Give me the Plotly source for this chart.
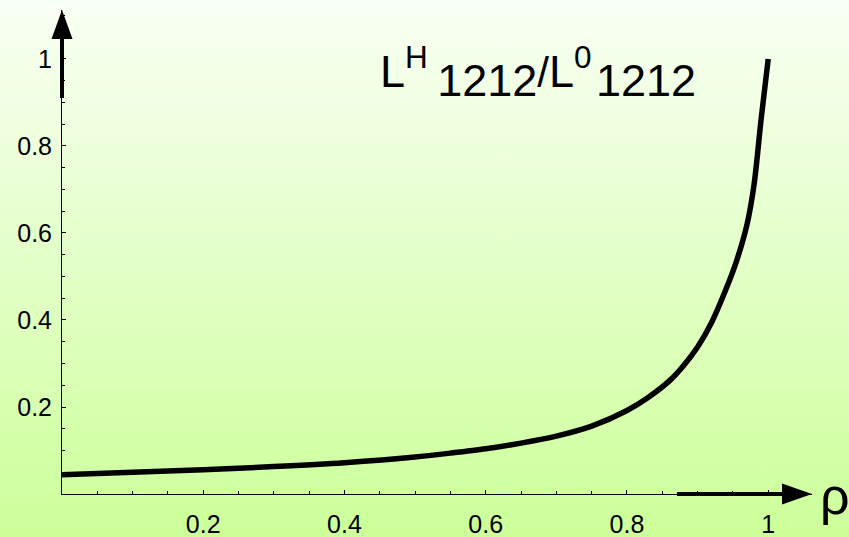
import base64

import plotly.graph_objects as go

# curve
rho = [0.0, 0.1, 0.2, 0.3, 0.4, 0.5, 0.55, 0.6, 0.65, 0.7, 0.75, 0.8, 0.83,
       0.86, 0.88, 0.9, 0.92, 0.94, 0.955, 0.97, 0.98, 0.99, 1.0]
ratio = [0.044, 0.050, 0.056, 0.063, 0.072, 0.085, 0.094, 0.104, 0.117, 0.133,
         0.156, 0.192, 0.222, 0.260, 0.295, 0.338, 0.395, 0.470, 0.535, 0.620,
         0.712, 0.862, 1.0]

x_ticks = [0.2, 0.4, 0.6, 0.8, 1.0]
x_labels = ["0.2", "0.4", "0.6", "0.8", "1"]
y_ticks = [0.2, 0.4, 0.6, 0.8, 1.0]
y_labels = ["0.2", "0.4", "0.6", "0.8", "1"]

# axis ranges run out to the arrow tips
X_MAX = 1.062
Y_MAX = 1.1126

W, H = 849, 537
ML, MR, MT, MB = 62, 37, 10, 43

FONT = "Liberation Sans, Arial, sans-serif"

# vertical gradient background as an svg image
svg = f"""<svg xmlns='http://www.w3.org/2000/svg' width='{W}' height='{H}' viewBox='0 0 {W} {H}' preserveAspectRatio='none'>
<defs><linearGradient id='g' x1='0' y1='0' x2='0' y2='1'>
<stop offset='0' stop-color='#f9fff4'/>
<stop offset='1' stop-color='#ccff99'/>
</linearGradient></defs>
<rect width='{W}' height='{H}' fill='url(#g)'/></svg>"""
bg_src = "data:image/svg+xml;base64," + base64.b64encode(svg.encode()).decode()

pw = W - ML - MR
ph = H - MT - MB

fig = go.Figure()

fig.add_trace(
    go.Scatter(
        x=rho,
        y=ratio,
        mode="lines",
        line=dict(color="black", width=5.5, shape="spline", smoothing=0.8),
        hoverinfo="skip",
        showlegend=False,
    )
)

fig.add_layout_image(
    source=bg_src,
    xref="paper",
    yref="paper",
    x=-ML / pw,
    y=1 + MT / ph,
    sizex=W / pw,
    sizey=H / ph,
    xanchor="left",
    yanchor="top",
    sizing="stretch",
    layer="below",
)

# axis arrows (paper refs so they are not clipped at the plot edge)
arrow = dict(xref="paper", yref="paper", xsizemode="pixel", ysizemode="pixel")
fig.add_shape(
    type="path", xanchor=1, yanchor=0,
    path="M0,0 L-30,10.5 L-30,-10.5 Z",
    fillcolor="black", line=dict(width=0), **arrow,
)
fig.add_shape(
    type="line", xanchor=1, yanchor=0,
    x0=-135, x1=-29, y0=0, y1=0,
    line=dict(color="black", width=4), **arrow,
)
fig.add_shape(
    type="path", xanchor=0, yanchor=1,
    path="M0,0 L-10.5,-29 L10.5,-29 Z",
    fillcolor="black", line=dict(width=0), **arrow,
)
fig.add_shape(
    type="line", xanchor=0, yanchor=1,
    x0=0, x1=0, y0=-28, y1=-88,
    line=dict(color="black", width=4), **arrow,
)

fig.add_annotation(
    text="ρ",
    xref="paper", yref="paper",
    x=(835 - ML) / pw, y=-2 / ph,
    xanchor="center", yanchor="middle",
    showarrow=False,
    font=dict(family=FONT, size=52, color="black"),
)

fig.add_annotation(
    text="L<sup>H</sup><span style='font-size:34px'> </span>"
         "<sub><span style='font-size:45px'>1212</span></sub>"
         "<span style='font-size:42px'>/</span>"
         "L<sup>0</sup><span style='font-size:16px'> </span>"
         "<sub><span style='font-size:45px'>1212</span></sub>",
    xref="paper", yref="paper",
    x=(378 - ML) / pw, y=(H - MB - 73) / ph,
    xanchor="left", yanchor="middle",
    showarrow=False,
    font=dict(family=FONT, size=45, color="black"),
)

axis_common = dict(
    automargin=False,
    showgrid=False,
    zeroline=False,
    showline=True,
    linecolor="black",
    linewidth=1,
    ticks="inside",
    ticklen=4,
    tickwidth=1,
    tickcolor="black",
    tickfont=dict(family=FONT, size=25, color="black"),
    minor=dict(dtick=0.05, ticks="inside", ticklen=3, tickwidth=1, tickcolor="black"),
    fixedrange=True,
)

fig.update_xaxes(
    range=[0, X_MAX],
    tickvals=x_ticks,
    ticktext=x_labels,
    ticklabelstandoff=8,
    **axis_common,
)
fig.update_yaxes(
    range=[0, Y_MAX],
    tickvals=y_ticks,
    ticktext=y_labels,
    ticklabelstandoff=4,
    **axis_common,
)

fig.update_layout(
    width=W,
    height=H,
    margin=dict(l=ML, r=MR, t=MT, b=MB),
    paper_bgcolor="#e4ffcc",
    plot_bgcolor="rgba(0,0,0,0)",
    showlegend=False,
)

fig.write_html(
    "out.html",
    config={"displayModeBar": False},
    post_script="document.body.style.margin='0';document.body.style.overflow='hidden';",
)
